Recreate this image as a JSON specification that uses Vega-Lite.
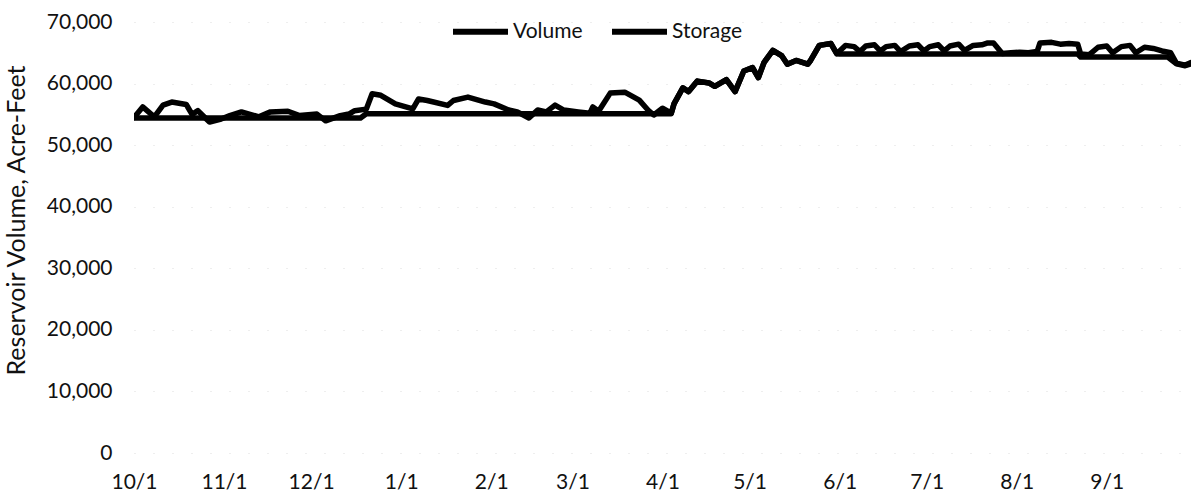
{
  "$schema": "https://vega.github.io/schema/vega-lite/v6.json",
  "autosize": "none",
  "padding": {"left": 134, "top": 22, "right": 0, "bottom": 41},
  "width": 1057,
  "height": 431,
  "background": "white",
  "config": {
    "view": {"stroke": null},
    "font": "Lato",
    "axis": {"labelFont": "Lato", "titleFont": "Lato", "labelColor": "#111", "titleColor": "#111"}
  },
  "datasets": {
    "volume": [
      {"date": "2018-10-01", "value": 54500}, {"date": "2018-10-04", "value": 56200}, {"date": "2018-10-08", "value": 54600},
      {"date": "2018-10-11", "value": 56500}, {"date": "2018-10-14", "value": 57000}, {"date": "2018-10-19", "value": 56600},
      {"date": "2018-10-21", "value": 55000}, {"date": "2018-10-23", "value": 55600}, {"date": "2018-10-27", "value": 53750},
      {"date": "2018-10-31", "value": 54250}, {"date": "2018-11-03", "value": 54800}, {"date": "2018-11-07", "value": 55400},
      {"date": "2018-11-13", "value": 54600}, {"date": "2018-11-17", "value": 55400}, {"date": "2018-11-23", "value": 55500},
      {"date": "2018-11-27", "value": 54800}, {"date": "2018-12-03", "value": 55050}, {"date": "2018-12-06", "value": 53950},
      {"date": "2018-12-11", "value": 54800}, {"date": "2018-12-14", "value": 55050}, {"date": "2018-12-16", "value": 55600},
      {"date": "2018-12-20", "value": 55850}, {"date": "2018-12-22", "value": 58350}, {"date": "2018-12-25", "value": 58100},
      {"date": "2018-12-30", "value": 56700}, {"date": "2019-01-05", "value": 55900}, {"date": "2019-01-07", "value": 57500},
      {"date": "2019-01-10", "value": 57250}, {"date": "2019-01-17", "value": 56450}, {"date": "2019-01-19", "value": 57250},
      {"date": "2019-01-24", "value": 57800}, {"date": "2019-01-30", "value": 57000}, {"date": "2019-02-02", "value": 56700},
      {"date": "2019-02-07", "value": 55700}, {"date": "2019-02-10", "value": 55400}, {"date": "2019-02-14", "value": 54400},
      {"date": "2019-02-17", "value": 55700}, {"date": "2019-02-20", "value": 55400}, {"date": "2019-02-23", "value": 56500},
      {"date": "2019-02-26", "value": 55700}, {"date": "2019-03-03", "value": 55400}, {"date": "2019-03-07", "value": 55200},
      {"date": "2019-03-08", "value": 56200}, {"date": "2019-03-10", "value": 55500}, {"date": "2019-03-14", "value": 58450},
      {"date": "2019-03-19", "value": 58600}, {"date": "2019-03-24", "value": 57300}, {"date": "2019-03-27", "value": 55700},
      {"date": "2019-03-29", "value": 54900}, {"date": "2019-04-01", "value": 56000}, {"date": "2019-04-04", "value": 55200},
      {"date": "2019-04-05", "value": 56750}, {"date": "2019-04-08", "value": 59300}, {"date": "2019-04-10", "value": 58700},
      {"date": "2019-04-13", "value": 60400}, {"date": "2019-04-17", "value": 60100}, {"date": "2019-04-19", "value": 59550},
      {"date": "2019-04-23", "value": 60650}, {"date": "2019-04-26", "value": 58700}, {"date": "2019-04-29", "value": 62050},
      {"date": "2019-05-02", "value": 62600}, {"date": "2019-05-04", "value": 60950}, {"date": "2019-05-06", "value": 63450},
      {"date": "2019-05-09", "value": 65400}, {"date": "2019-05-12", "value": 64550}, {"date": "2019-05-14", "value": 63150},
      {"date": "2019-05-17", "value": 63750}, {"date": "2019-05-21", "value": 63150}, {"date": "2019-05-22", "value": 63750},
      {"date": "2019-05-25", "value": 66200}, {"date": "2019-05-29", "value": 66500}, {"date": "2019-05-31", "value": 64850},
      {"date": "2019-06-03", "value": 66200}, {"date": "2019-06-06", "value": 66000}, {"date": "2019-06-08", "value": 65200},
      {"date": "2019-06-10", "value": 66100}, {"date": "2019-06-13", "value": 66300}, {"date": "2019-06-15", "value": 65300},
      {"date": "2019-06-17", "value": 66000}, {"date": "2019-06-20", "value": 66200}, {"date": "2019-06-22", "value": 65200},
      {"date": "2019-06-25", "value": 66100}, {"date": "2019-06-28", "value": 66300}, {"date": "2019-06-30", "value": 65300},
      {"date": "2019-07-02", "value": 66000}, {"date": "2019-07-05", "value": 66300}, {"date": "2019-07-07", "value": 65300},
      {"date": "2019-07-09", "value": 66100}, {"date": "2019-07-12", "value": 66400}, {"date": "2019-07-14", "value": 65400},
      {"date": "2019-07-17", "value": 66200}, {"date": "2019-07-20", "value": 66300}, {"date": "2019-07-22", "value": 66600},
      {"date": "2019-07-24", "value": 66600}, {"date": "2019-07-27", "value": 64900}, {"date": "2019-07-30", "value": 65000},
      {"date": "2019-08-02", "value": 65100}, {"date": "2019-08-05", "value": 65000}, {"date": "2019-08-08", "value": 65200},
      {"date": "2019-08-09", "value": 66600}, {"date": "2019-08-13", "value": 66700}, {"date": "2019-08-16", "value": 66400},
      {"date": "2019-08-19", "value": 66500}, {"date": "2019-08-22", "value": 66400}, {"date": "2019-08-23", "value": 64800},
      {"date": "2019-08-26", "value": 64700}, {"date": "2019-08-29", "value": 65900}, {"date": "2019-09-01", "value": 66100},
      {"date": "2019-09-03", "value": 65000}, {"date": "2019-09-06", "value": 66000}, {"date": "2019-09-09", "value": 66200},
      {"date": "2019-09-11", "value": 65000}, {"date": "2019-09-14", "value": 65900}, {"date": "2019-09-17", "value": 65700},
      {"date": "2019-09-20", "value": 65300}, {"date": "2019-09-23", "value": 65000}, {"date": "2019-09-25", "value": 63300},
      {"date": "2019-09-28", "value": 63000}, {"date": "2019-09-30", "value": 63400}
    ],
    "storage": [
      {"date": "2018-10-01", "value": 54400}, {"date": "2018-12-18", "value": 54400}, {"date": "2018-12-20", "value": 55100},
      {"date": "2019-04-04", "value": 55100}, {"date": "2019-04-05", "value": 56750}, {"date": "2019-04-08", "value": 59300},
      {"date": "2019-04-10", "value": 58700}, {"date": "2019-04-13", "value": 60400}, {"date": "2019-04-17", "value": 60100},
      {"date": "2019-04-19", "value": 59550}, {"date": "2019-04-23", "value": 60650}, {"date": "2019-04-26", "value": 58700},
      {"date": "2019-04-29", "value": 62050}, {"date": "2019-05-02", "value": 62600}, {"date": "2019-05-04", "value": 60950},
      {"date": "2019-05-06", "value": 63450}, {"date": "2019-05-09", "value": 65400}, {"date": "2019-05-12", "value": 64550},
      {"date": "2019-05-14", "value": 63150}, {"date": "2019-05-17", "value": 63750}, {"date": "2019-05-21", "value": 63150},
      {"date": "2019-05-22", "value": 63750}, {"date": "2019-05-25", "value": 66200}, {"date": "2019-05-29", "value": 66500},
      {"date": "2019-05-31", "value": 64850}, {"date": "2019-06-01", "value": 64800}, {"date": "2019-08-22", "value": 64800},
      {"date": "2019-08-23", "value": 64300}, {"date": "2019-09-22", "value": 64300}, {"date": "2019-09-25", "value": 63200},
      {"date": "2019-09-28", "value": 62900}, {"date": "2019-09-30", "value": 63200}
    ]
  },
  "layer": [
    {
      "data": {"name": "storage"},
      "transform": [{"calculate": "'Storage'", "as": "series"}],
      "mark": {"type": "line", "strokeWidth": 5.5, "strokeJoin": "round", "strokeCap": "round", "clip": true},
      "encoding": {
        "x": {"field": "date", "type": "temporal"},
        "y": {"field": "value", "type": "quantitative"},
        "color": {"field": "series", "type": "nominal"}
      }
    },
    {
      "data": {"name": "volume"},
      "transform": [{"calculate": "'Volume'", "as": "series"}],
      "mark": {"type": "line", "strokeWidth": 5.5, "strokeJoin": "round", "strokeCap": "round", "clip": true},
      "encoding": {
        "x": {
          "field": "date", "type": "temporal",
          "scale": {"domain": ["2018-10-01", "2019-09-30"]},
          "axis": {
            "title": null, "format": "%-m/%-d", "domain": false, "ticks": false, "grid": false,
            "labelFontSize": 21, "labelPadding": 18, "labelFlush": false, "labelOverlap": false,
            "values": ["2018-10-01", "2018-11-01", "2018-12-01", "2019-01-01", "2019-02-01", "2019-03-01", "2019-04-01", "2019-05-01", "2019-06-01", "2019-07-01", "2019-08-01", "2019-09-01"]
          }
        },
        "y": {
          "field": "value", "type": "quantitative",
          "scale": {"domain": [0, 70000], "nice": false},
          "axis": {
            "title": "Reservoir Volume, Acre-Feet", "format": ",.0f", "values": [0, 10000, 20000, 30000, 40000, 50000, 60000, 70000],
            "domain": false, "ticks": false, "grid": true, "gridColor": "#dddddd", "gridDash": [1, 18], "gridWidth": 1,
            "labelFontSize": 21, "labelPadding": 22, "labelFlush": false,
            "titleFontSize": 25, "titleFontWeight": "normal", "titleAngle": -90,
            "titleX": -110, "titleY": 198, "titleAlign": "center", "titleBaseline": "alphabetic"
          }
        },
        "color": {
          "field": "series", "type": "nominal",
          "scale": {"domain": ["Volume", "Storage"], "range": ["#000000", "#000000"]},
          "legend": {
            "title": null, "orient": "none", "direction": "horizontal", "legendX": 316, "legendY": -21,
            "symbolType": "stroke", "symbolSize": 3025, "symbolStrokeWidth": 6,
            "labelFont": "Lato", "labelFontSize": 21, "labelColor": "#111", "labelOffset": 2, "columnPadding": 17
          }
        }
      }
    }
  ]
}
